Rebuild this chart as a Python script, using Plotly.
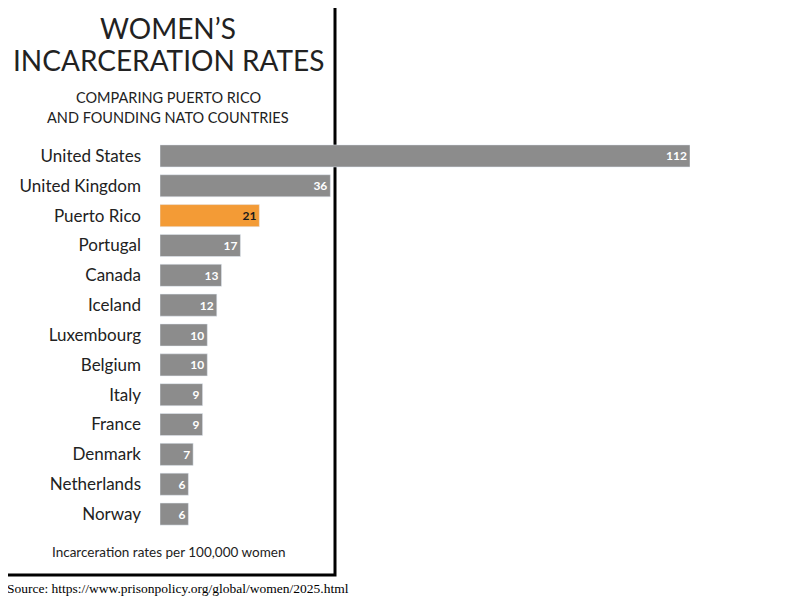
import plotly.graph_objects as go

countries = ["United States","United Kingdom","Puerto Rico","Portugal","Canada","Iceland",
             "Luxembourg","Belgium","Italy","France","Denmark","Netherlands","Norway"]
rates = [112,36,21,17,13,12,10,10,9,9,7,6,6]

colors = ["#f39b36" if c == "Puerto Rico" else "#8c8c8c" for c in countries]
textcolors = ["#1a1a1a" if c == "Puerto Rico" else "white" for c in countries]

OFF = 8
L, R, T, B = 160 - OFF, 690 - OFF, 141 - OFF, 529 - OFF
def px(x): return (x - OFF - L) / (R - L)
def py(y): return (B - (y - OFF)) / (B - T)

fig = go.Figure(go.Bar(
    x=rates, y=countries, orientation="h", marker_color=colors, width=0.74,
    text=["<b>%d</b>" % v for v in rates], textposition="inside", insidetextanchor="end",
    textfont=dict(color=textcolors, size=12, family="Lato"), cliponaxis=False,
))
fig.update_layout(
    width=800, height=600, margin=dict(l=L, r=800 - R, t=T, b=600 - B),
    plot_bgcolor="white", paper_bgcolor="white", showlegend=False,
    font=dict(family="Lato", color="#222"),
    xaxis=dict(range=[0, 112], visible=False, fixedrange=True),
    yaxis=dict(autorange="reversed", showgrid=False, ticks="", ticklabelstandoff=18,
               tickfont=dict(size=17, color="#222", family="Lato")),
    bargap=0.26,
)
fig.add_shape(type="rect", xref="paper", yref="paper", x0=px(4), x1=px(335), y0=py(575), y1=py(4),
              line=dict(color="black", width=3), layer="below")
def ann(text, x, y, size, xanchor="center", family="Lato", color="#222"):
    fig.add_annotation(text=text, xref="paper", yref="paper", x=px(x), y=py(y), showarrow=False,
                       xanchor=xanchor, yanchor="middle", font=dict(size=size, family=family, color=color))
ann("WOMEN’S", 168, 28, 28)
ann("INCARCERATION RATES", 168, 60, 28)
ann("COMPARING PUERTO RICO", 168, 98, 14.5)
ann("AND FOUNDING NATO COUNTRIES", 168, 117, 14.5)
ann("Incarceration rates per 100,000 women", 168, 552, 13.5)
ann("Source: https://www.prisonpolicy.org/global/women/2025.html", 5, 588, 13.5, xanchor="left",
    family="Liberation Serif", color="black")
fig.write_html("out.html")
